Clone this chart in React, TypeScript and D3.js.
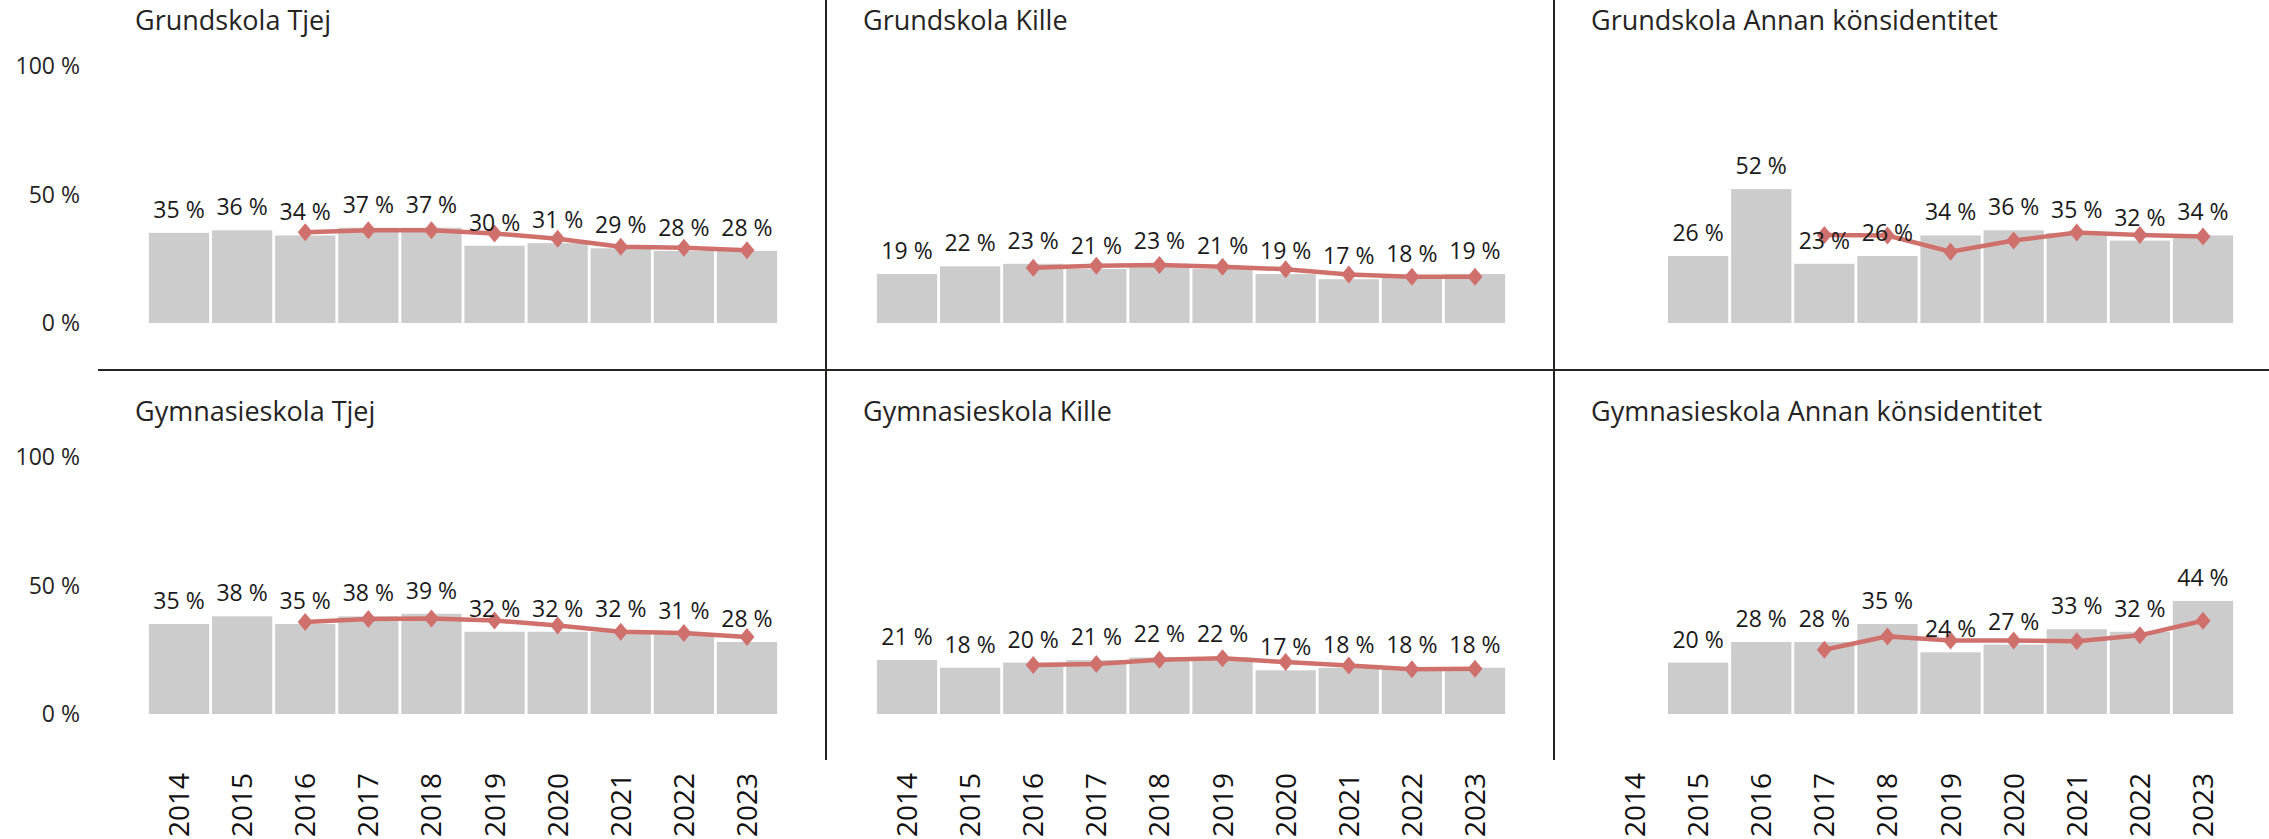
import React, { useEffect, useRef } from 'react';
import * as d3 from 'd3';

const years = ['2014', '2015', '2016', '2017', '2018', '2019', '2020', '2021', '2022', '2023'];
const yTicks = [0, 50, 100];

const panelTitles = [
  'Grundskola Tjej',
  'Grundskola Kille',
  'Grundskola Annan könsidentitet',
  'Gymnasieskola Tjej',
  'Gymnasieskola Kille',
  'Gymnasieskola Annan könsidentitet',
];

// bar values (%) per year, null = no data
const grundTjejBars = [35, 36, 34, 37, 37, 30, 31, 29, 28, 28];
const grundKilleBars = [19, 22, 23, 21, 23, 21, 19, 17, 18, 19];
const grundAnnanBars = [null, 26, 52, 23, 26, 34, 36, 35, 32, 34];
const gymTjejBars = [35, 38, 35, 38, 39, 32, 32, 32, 31, 28];
const gymKilleBars = [21, 18, 20, 21, 22, 22, 17, 18, 18, 18];
const gymAnnanBars = [null, 20, 28, 28, 35, 24, 27, 33, 32, 44];

// red line values (%) per year
const grundTjejLine = [null, null, 35.2, 36.0, 36.0, 34.8, 32.7, 29.6, 29.2, 28.3];
const grundKilleLine = [null, null, 21.5, 22.2, 22.5, 21.8, 20.9, 18.8, 18.0, 18.0];
const grundAnnanLine = [null, null, null, 34.2, 34.0, 27.7, 32.0, 35.1, 34.2, 33.6];
const gymTjejLine = [null, null, 35.8, 37.0, 37.2, 36.4, 34.4, 32.0, 31.5, 30.0];
const gymKilleLine = [null, null, 19.1, 19.5, 21.1, 21.7, 20.2, 18.9, 17.4, 17.6];
const gymAnnanLine = [null, null, null, 25.0, 30.2, 28.6, 28.6, 28.3, 30.6, 36.3];

const barSeries = [grundTjejBars, grundKilleBars, grundAnnanBars, gymTjejBars, gymKilleBars, gymAnnanBars];
const lineSeries = [grundTjejLine, grundKilleLine, grundAnnanLine, gymTjejLine, gymKilleLine, gymAnnanLine];

const App = () => {
  const svgRef = useRef(null);

  useEffect(() => {
    const width = 2269;
    const height = 839;
    const colX = [149, 877, 1605];
    const plotW = 628;
    const rowY = [{ bottom: 323, top: 65.5 }, { bottom: 714, top: 457 }];
    const titleY = [30, 421];
    const textFont = "'Open Sans', sans-serif";
    const titleFont = "DIN, 'Open Sans', sans-serif";
    const ink = '#252423';
    const red = '#D0706D';

    const svg = d3.select(svgRef.current);
    svg.selectAll('*').remove();
    svg.attr('width', width).attr('height', height);

    // separators
    svg.append('line')
      .attr('x1', 98).attr('x2', width).attr('y1', 370).attr('y2', 370)
      .attr('stroke', ink).attr('stroke-width', 2);
    [826, 1554].forEach(x => {
      svg.append('line')
        .attr('x1', x).attr('x2', x).attr('y1', 0).attr('y2', 760)
        .attr('stroke', ink).attr('stroke-width', 2);
    });

    panelTitles.forEach((title, i) => {
      const col = i % 3;
      const row = Math.floor(i / 3);
      const x = d3.scaleBand()
        .domain(years)
        .range([colX[col] - 1.5, colX[col] + plotW + 1.5])
        .paddingInner(0.045)
        .paddingOuter(0.022);
      const y = d3.scaleLinear().domain([0, 100]).range([rowY[row].bottom, rowY[row].top]);
      const g = svg.append('g');

      g.append('text')
        .attr('x', colX[col] - 14)
        .attr('y', titleY[row])
        .attr('font-family', titleFont)
        .attr('font-size', 27)
        .attr('font-weight', 500)
        .attr('fill', ink)
        .text(title);

      // y ticks, only first column
      if (col === 0) {
        yTicks.forEach(t => {
          g.append('text')
            .attr('x', 80)
            .attr('y', y(t))
            .attr('dy', '0.36em')
            .attr('text-anchor', 'end')
            .attr('font-family', textFont)
            .attr('font-size', 23)
            .attr('fill', ink)
            .text(`${t} %`);
        });
      }

      const bars = years.map((yr, k) => ({ yr, v: barSeries[i][k] })).filter(d => d.v !== null);
      g.selectAll('rect.bar')
        .data(bars)
        .enter()
        .append('rect')
        .attr('class', 'bar')
        .attr('x', d => x(d.yr))
        .attr('width', x.bandwidth())
        .attr('y', d => y(d.v))
        .attr('height', d => y(0) - y(d.v))
        .attr('fill', '#CCCCCC');

      const pts = years.map((yr, k) => ({ yr, v: lineSeries[i][k] })).filter(d => d.v !== null);
      const line = d3.line()
        .x(d => x(d.yr) + x.bandwidth() / 2)
        .y(d => y(d.v));
      g.append('path')
        .datum(pts)
        .attr('fill', 'none')
        .attr('stroke', red)
        .attr('stroke-width', 4.5)
        .attr('d', line);
      g.selectAll('path.marker')
        .data(pts)
        .enter()
        .append('path')
        .attr('class', 'marker')
        .attr('transform', d => `translate(${x(d.yr) + x.bandwidth() / 2},${y(d.v)})`)
        .attr('d', 'M0,-9L7.5,0L0,9L-7.5,0Z')
        .attr('fill', red);

      // data labels
      g.selectAll('text.lbl')
        .data(bars)
        .enter()
        .append('text')
        .attr('class', 'lbl')
        .attr('x', d => x(d.yr) + x.bandwidth() / 2)
        .attr('y', d => y(d.v) - 15)
        .attr('text-anchor', 'middle')
        .attr('font-family', textFont)
        .attr('font-size', 23)
        .attr('fill', '#1a1a1a')
        .text(d => `${d.v} %`);

      // year labels below bottom row
      if (row === 1) {
        years.forEach(yr => {
          const cx = x(yr) + x.bandwidth() / 2;
          g.append('text')
            .attr('transform', `translate(${cx + 10},773) rotate(-90)`)
            .attr('text-anchor', 'end')
            .attr('font-family', textFont)
            .attr('font-size', 28)
            .attr('fill', '#111')
            .text(yr);
        });
      }
    });
  }, []);

  return (
    <div style={{ position: 'absolute', left: 0, top: 0, background: '#fff' }}>
      <svg ref={svgRef} style={{ display: 'block' }} />
    </div>
  );
};

export default App;
